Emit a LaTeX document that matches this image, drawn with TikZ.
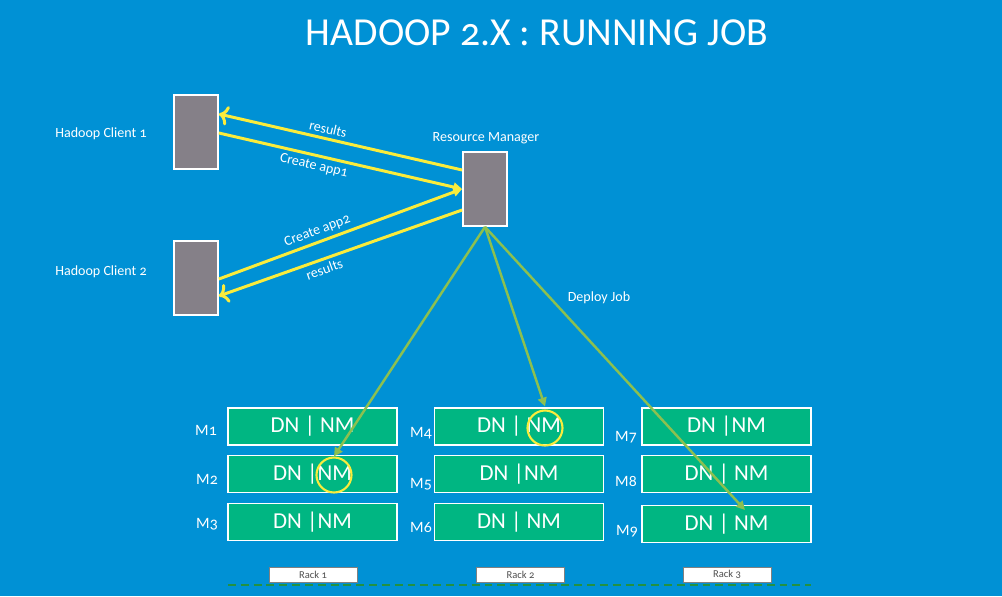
\documentclass[tikz,border=0pt]{standalone}
\usepackage{fontspec}
\setmainfont[Numbers=OldStyle]{Carlito}
\usetikzlibrary{arrows.meta}

\definecolor{slideblue}{RGB}{0,145,213}
\definecolor{boxgray}{RGB}{133,128,136}
\definecolor{nodegreen}{RGB}{0,182,130}
\definecolor{linkyellow}{RGB}{250,236,60}
\definecolor{deploygreen}{RGB}{140,192,80}
\definecolor{floorgreen}{RGB}{35,145,65}
\definecolor{racktext}{RGB}{80,80,80}

\tikzset{
  server/.style={draw=white, fill=boxgray, line width=1pt, inner sep=0pt,
    minimum width=0.88cm, minimum height=1.48cm},
  machine/.style={draw=white, fill=nodegreen, line width=1pt, inner sep=0pt,
    minimum width=3.38cm, minimum height=0.74cm, text=white, font=\fontsize{13}{14}\selectfont},
  rack/.style={draw=gray, fill=white, line width=0.5pt, inner sep=0pt,
    minimum width=1.76cm, minimum height=0.3cm, text=racktext, font=\fontsize{6}{7}\selectfont},
  label/.style={text=white, font=\fontsize{8}{9}\selectfont},
  mlabel/.style={text=white, font=\fontsize{9}{10}\selectfont},
  ring/.style={draw=linkyellow, line width=1.2pt, circle, minimum size=0.7cm, inner sep=0pt},
  ylink/.style={draw=linkyellow, line width=1.7pt, -{Triangle[length=5pt,width=5pt]}},
  glink/.style={draw=deploygreen, line width=1.4pt, -{Triangle[length=5pt,width=5pt]}},
  lbl/.style={text=white, font=\fontsize{8}{9}\selectfont, sloped, inner sep=2pt}
}

\begin{document}
\begin{tikzpicture}[x=0.02cm, y=-0.02cm]
\fill[slideblue] (0,0) rectangle (1002,596);

\node[text=white, font=\fontsize{22.6}{24}\selectfont] (title) at (537,33) {HADOOP 2.X : RUNNING JOB};

\node[server] (c1) at (196,132) {};
\node[server] (c2) at (196,278) {};
\node[server] (rm) at (485,189) {};
\node[label] (c1lbl) at (101,134) {Hadoop Client 1};
\node[label] (c2lbl) at (101,272) {Hadoop Client 2};
\node[label] (rmlbl) at (486,138) {Resource Manager};

\draw[ylink,<-] ([yshift=0.36cm]c1.east) -- ([yshift=0.38cm]rm.west)
  node[lbl, above, pos=0.44] {results};
\draw[ylink] ([yshift=-0.02cm]c1.east) -- (rm.west)
  node[lbl, below, pos=0.4] {Create app1};
\draw[ylink] ([yshift=-0.02cm]c2.east) -- (rm.west)
  node[lbl, above, pos=0.42] {Create app2};
\draw[ylink,<-] ([yshift=-0.36cm]c2.east) -- ([yshift=-0.42cm]rm.west)
  node[lbl, below, pos=0.42] {results};

\node[machine] (m1) at (312.5,426.5) {DN | NM};
\node[machine] (m2) at (312.5,474) {DN |NM};
\node[machine] (m3) at (312.5,522) {DN |NM};
\node[machine] (m4) at (519,426.5) {DN | NM};
\node[machine] (m5) at (519,474) {DN |NM};
\node[machine] (m6) at (519,522) {DN | NM};
\node[machine] (m7) at (726.5,426.5) {DN |NM};
\node[machine] (m8) at (726.5,474) {DN | NM};
\node[machine] (m9) at (726.5,524) {DN | NM};

\node[mlabel] (m1lbl) at (206,430) {M1};
\node[mlabel] (m2lbl) at (207,479) {M2};
\node[mlabel] (m3lbl) at (207,524) {M3};
\node[mlabel] (m4lbl) at (421,433) {M4};
\node[mlabel] (m5lbl) at (421,484) {M5};
\node[mlabel] (m6lbl) at (421,527) {M6};
\node[mlabel] (m7lbl) at (626,437) {M7};
\node[mlabel] (m8lbl) at (626,481) {M8};
\node[mlabel] (m9lbl) at (627,531) {M9};

\node[ring] (ring2) at (334,475) {};
\node[ring] (ring4) at (545,428) {};
\coordinate (m9tip) at (745,510);

\draw[glink] (rm.south) -- (ring2.north);
\draw[glink] (rm.south) -- ([yshift=0.06cm]ring4.north);
\draw[glink] (rm.south) -- (m9tip);
\node[label] (deploy) at (599,298) {Deploy Job};

\node[rack] (r1) at (313,574.5) {Rack 1};
\node[rack] (r2) at (520.5,574.5) {Rack 2};
\node[rack] (r3) at (727,574.5) {Rack 3};
\draw[floorgreen, line width=1.2pt, dash pattern=on 4.5pt off 2.8pt] (228,585) -- (811,585);
\end{tikzpicture}
\end{document}
